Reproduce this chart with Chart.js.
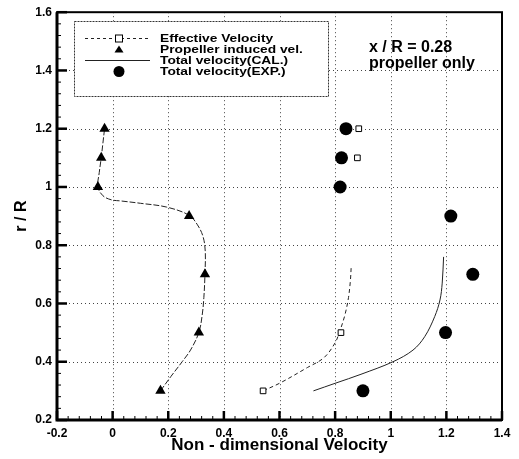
<!DOCTYPE html>
<html>
<head>
<meta charset="utf-8">
<script src="https://cdn.jsdelivr.net/npm/chart.js@4.4.0/dist/chart.umd.min.js"></script>
<style>
  body { margin: 0; background: #fff; }
  #wrap { width: 519px; height: 459px; }
</style>
</head>
<body>
<div id="wrap"><canvas id="chart" width="519" height="459"></canvas></div>
<script>
// tick labels
const xTicks = [-0.2, 0, 0.2, 0.4, 0.6, 0.8, 1, 1.2, 1.4];
const yTicks = [0.2, 0.4, 0.6, 0.8, 1, 1.2, 1.4, 1.6];

// measured stations r/R
const rLevels = [0.3, 0.5, 0.7, 0.9, 1.0, 1.1, 1.2];
const propInduced = [0.172, 0.31, 0.332, 0.275, -0.053, -0.041, -0.029];
const totalExp = [0.90, 1.197, 1.295, 1.216, 0.818, 0.823, 0.839];

// effective velocity symbols
const effR = [0.3, 0.5, 1.1, 1.2];
const effVel = [0.541, 0.821, 0.88, 0.885];

// calculated curves
const effCurveX = [0.541, 0.604, 0.70, 0.76, 0.80, 0.815, 0.835, 0.848, 0.855, 0.858];
const effCurveR = [0.30, 0.328, 0.38, 0.414, 0.465, 0.50, 0.56, 0.62, 0.68, 0.73];

const propCurveX = [0.172, 0.21, 0.25, 0.28, 0.31, 0.322, 0.328, 0.332, 0.333, 0.325, 0.305, 0.275, 0.194, 0.10, 0.03, -0.005, -0.035, -0.053, -0.048, -0.041, -0.035, -0.029];
const propCurveR = [0.30, 0.35, 0.40, 0.44, 0.50, 0.56, 0.62, 0.70, 0.78, 0.83, 0.87, 0.903, 0.931, 0.944, 0.952, 0.956, 0.97, 1.0, 1.05, 1.1, 1.15, 1.2];

const totalCurveX = [0.722, 0.803, 0.893, 1.008, 1.08, 1.122, 1.158, 1.177, 1.185, 1.19];
const totalCurveR = [0.30, 0.327, 0.357, 0.40, 0.44, 0.486, 0.555, 0.612, 0.67, 0.76];

const FONT = 'Liberation Sans, Arial, sans-serif';

const toPoints = (xs, ys) => xs.map((x, i) => ({ x: x, y: ys[i] }));
const fmt = v => String(parseFloat(Number(v).toFixed(2)));

// first dataset is drawn on top
const datasets = [
  {
    label: 'Total velocity(EXP.)',
    data: toPoints(totalExp, rLevels),
    showLine: false,
    pointStyle: 'circle',
    pointRadius: 6.5,
    backgroundColor: '#000',
    borderColor: '#000',
    borderWidth: 0
  },
  {
    label: 'Propeller induced vel.',
    data: toPoints(propInduced, rLevels),
    showLine: false,
    pointStyle: 'triangle',
    pointRadius: 6,
    backgroundColor: '#000',
    borderColor: '#000',
    borderWidth: 0
  },
  {
    label: 'Effective Velocity',
    data: toPoints(effVel, effR),
    showLine: false,
    pointStyle: 'rect',
    pointRadius: 4,
    backgroundColor: '#fff',
    borderColor: '#000',
    borderWidth: 1
  },
  {
    label: 'eff curve',
    data: toPoints(effCurveX, effCurveR),
    showLine: true,
    pointRadius: 0,
    borderColor: '#222',
    borderWidth: 1,
    borderDash: [4, 3],
    tension: 0.35
  },
  {
    label: 'prop curve',
    data: toPoints(propCurveX, propCurveR),
    showLine: true,
    pointRadius: 0,
    borderColor: '#222',
    borderWidth: 1,
    borderDash: [6, 2],
    tension: 0.35
  },
  {
    label: 'Total velocity(CAL.)',
    data: toPoints(totalCurveX, totalCurveR),
    showLine: true,
    pointRadius: 0,
    borderColor: '#222',
    borderWidth: 1,
    tension: 0.35
  }
];

// legend rows: text, line dash (null = no line), symbol
const legendRows = [
  { text: 'Effective Velocity', dash: [3, 3], symbol: 'rect' },
  { text: 'Propeller induced vel.', dash: null, symbol: 'triangle' },
  { text: 'Total velocity(CAL.)', dash: [], symbol: null },
  { text: 'Total velocity(EXP.)', dash: null, symbol: 'circle' }
];

// dotted grid under the data
const gridPlugin = {
  id: 'dotgrid',
  beforeDatasetsDraw(chart) {
    const ctx = chart.ctx;
    const a = chart.chartArea;
    const xs = chart.scales.x, ys = chart.scales.y;
    ctx.save();
    ctx.strokeStyle = '#444';
    ctx.lineWidth = 1;
    ctx.setLineDash([1, 3]);
    xTicks.forEach(v => {
      const px = Math.round(xs.getPixelForValue(v)) + 0.5;
      ctx.beginPath();
      ctx.moveTo(px, a.top);
      ctx.lineTo(px, a.bottom);
      ctx.stroke();
    });
    yTicks.forEach(v => {
      const py = Math.round(ys.getPixelForValue(v)) + 0.5;
      ctx.beginPath();
      ctx.moveTo(a.left, py);
      ctx.lineTo(a.right, py);
      ctx.stroke();
    });
    ctx.restore();
  }
};

const framePlugin = {
  id: 'frame',
  afterDraw(chart) {
    const ctx = chart.ctx;
    const a = chart.chartArea;
    const xs = chart.scales.x, ys = chart.scales.y;
    ctx.save();

    // tick marks (inward)
    ctx.strokeStyle = '#000';
    for (let v = -0.2; v <= 1.4001; v += 0.04) {
      const major = Math.abs(v / 0.2 - Math.round(v / 0.2)) < 1e-6;
      const px = xs.getPixelForValue(v);
      ctx.lineWidth = major ? 2.5 : 1;
      ctx.beginPath();
      ctx.moveTo(px, a.bottom);
      ctx.lineTo(px, a.bottom - (major ? 9 : 4));
      ctx.stroke();
    }
    for (let v = 0.2; v <= 1.6001; v += 0.04) {
      const major = Math.abs(v / 0.2 - Math.round(v / 0.2)) < 1e-6;
      const py = ys.getPixelForValue(v);
      ctx.lineWidth = major ? 2.5 : 1;
      ctx.beginPath();
      ctx.moveTo(a.left, py);
      ctx.lineTo(a.left + (major ? 10 : 4), py);
      ctx.stroke();
    }

    // box
    ctx.lineWidth = 2;
    ctx.strokeRect(a.left, a.top, a.right - a.left, a.bottom - a.top);
    ctx.lineWidth = 3;
    ctx.beginPath();
    ctx.moveTo(a.left, a.top);
    ctx.lineTo(a.left, a.bottom);
    ctx.lineTo(a.right, a.bottom);
    ctx.stroke();

    // legend box
    const bx = 74, by = 21, bw = 254, bh = 75;
    ctx.fillStyle = '#fff';
    ctx.fillRect(bx, by, bw, bh);
    ctx.lineWidth = 1;
    ctx.strokeStyle = '#333';
    ctx.setLineDash([2, 1]);
    ctx.strokeRect(bx + 0.5, by + 0.5, bw, bh);
    ctx.setLineDash([]);

    legendRows.forEach((row, i) => {
      const cy = 38.5 + i * 11;
      ctx.strokeStyle = '#222';
      ctx.fillStyle = '#000';
      if (row.dash) {
        ctx.lineWidth = 1;
        ctx.setLineDash(row.dash);
        ctx.beginPath();
        ctx.moveTo(85, cy);
        ctx.lineTo(150, cy);
        ctx.stroke();
        ctx.setLineDash([]);
      }
      if (row.symbol === 'rect') {
        ctx.fillStyle = '#fff';
        ctx.fillRect(115, cy - 4, 8, 8);
        ctx.strokeStyle = '#000';
        ctx.strokeRect(115.5, cy - 3.5, 7, 7);
      } else if (row.symbol === 'triangle') {
        ctx.beginPath();
        ctx.moveTo(119, cy - 4);
        ctx.lineTo(123.5, cy + 3);
        ctx.lineTo(114.5, cy + 3);
        ctx.closePath();
        ctx.fill();
      } else if (row.symbol === 'circle') {
        ctx.beginPath();
        ctx.arc(119, cy, 5.5, 0, Math.PI * 2);
        ctx.fill();
      }
      ctx.fillStyle = '#000';
      ctx.font = 'bold 11px ' + FONT;
      ctx.textBaseline = 'middle';
      ctx.textAlign = 'left';
      ctx.save();
      ctx.translate(160, cy);
      ctx.scale(1.25, 1);
      ctx.fillText(row.text, 0, 0);
      ctx.restore();
    });

    // annotation
    ctx.font = 'bold 16px ' + FONT;
    ctx.fillStyle = '#000';
    ctx.textBaseline = 'middle';
    ctx.textAlign = 'left';
    ctx.fillText('x / R = 0.28', 369, 48);
    ctx.fillText('propeller only', 369, 64);

    ctx.restore();
  }
};

new Chart(document.getElementById('chart'), {
  type: 'scatter',
  data: { datasets: datasets },
  options: {
    responsive: false,
    animation: false,
    layout: { padding: { left: 0, top: 11, right: 17, bottom: 0 } },
    plugins: {
      legend: { display: false },
      tooltip: { enabled: false }
    },
    scales: {
      x: {
        type: 'linear',
        min: -0.2,
        max: 1.4,
        afterBuildTicks: s => { s.ticks = xTicks.map(v => ({ value: v })); },
        afterFit: s => { s.height = 39; },
        grid: { display: false, drawTicks: false },
        border: { display: false },
        ticks: {
          callback: v => fmt(v),
          color: '#000',
          padding: 6,
          maxRotation: 0,
          font: { family: FONT, size: 12, weight: 'bold' }
        },
        title: {
          display: true,
          text: 'Non - dimensional Velocity',
          color: '#000',
          font: { family: FONT, size: 17, weight: 'bold' },
          padding: { top: 0, bottom: 3 }
        }
      },
      y: {
        type: 'linear',
        min: 0.2,
        max: 1.6,
        afterBuildTicks: s => { s.ticks = yTicks.map(v => ({ value: v })); },
        afterFit: s => { s.width = 57; },
        grid: { display: false, drawTicks: false },
        border: { display: false },
        ticks: {
          callback: v => fmt(v),
          color: '#000',
          padding: 5,
          font: { family: FONT, size: 12, weight: 'bold' }
        },
        title: {
          display: true,
          text: 'r / R',
          color: '#000',
          font: { family: FONT, size: 16, weight: 'bold' },
          padding: { top: 12, bottom: 0 }
        }
      }
    }
  },
  plugins: [gridPlugin, framePlugin]
});
</script>
</body>
</html>
